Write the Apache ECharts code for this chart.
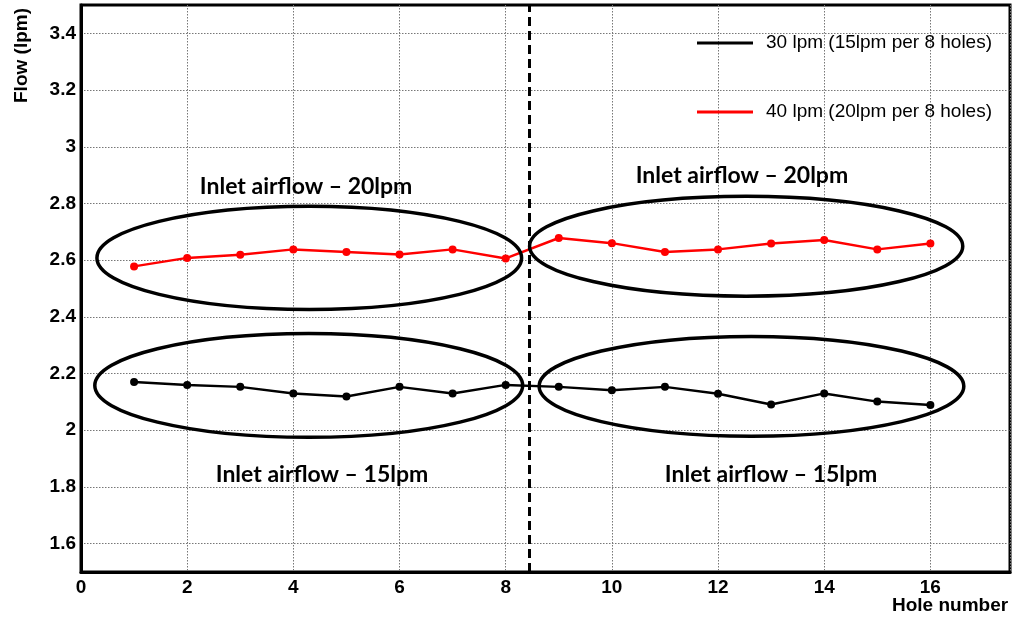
<!DOCTYPE html>
<html>
<head>
<meta charset="utf-8">
<script src="https://cdn.jsdelivr.net/npm/echarts@6/dist/echarts.min.js"></script>
<style>
  html, body { margin: 0; padding: 0; background: #fff; }
  #chart { width: 1013px; height: 620px; }
</style>
</head>
<body>
<div id="chart"></div>
<script>
// hole numbers and measured flow per hole
const holes = [1, 2, 3, 4, 5, 6, 7, 8, 9, 10, 11, 12, 13, 14, 15, 16]
const flow30 = [2.17, 2.16, 2.153, 2.13, 2.119, 2.153, 2.13, 2.16, 2.153, 2.141, 2.153, 2.129, 2.091, 2.13, 2.101, 2.089]
const flow40 = [2.578, 2.608, 2.619, 2.638, 2.629, 2.62, 2.638, 2.606, 2.678, 2.66, 2.629, 2.638, 2.659, 2.671, 2.638, 2.659]
const yTicks = [1.6, 1.8, 2, 2.2, 2.4, 2.6, 2.8, 3, 3.2, 3.4]
const dividerX = 8.45

// annotation ellipses (data units): cx, cy, rx, ry
const ellipses = [
  [4.30, 2.608, 4.0, 0.182],
  [12.53, 2.649, 4.08, 0.176],
  [4.29, 2.158, 4.03, 0.183],
  [12.63, 2.155, 4.0, 0.176]
]
// annotation labels (data units)
const notes = [
  ['Inlet airflow – 20lpm', 4.24, 2.86],
  ['Inlet airflow – 20lpm', 12.45, 2.90],
  ['Inlet airflow – 15lpm', 4.54, 1.844],
  ['Inlet airflow – 15lpm', 13.0, 1.844]
]

const chart = echarts.init(document.getElementById('chart'))

const boldFont = { color: '#000', fontWeight: 'bold', fontSize: 19, fontFamily: 'Liberation Sans, Arial, sans-serif' }
const gridLine = { show: true, lineStyle: { color: '#777', type: [1.5, 1.5], width: 1 } }

const option = {
  animation: false,
  backgroundColor: '#fff',
  grid: {
    left: 81, right: 3, top: 5, bottom: 48,
    containLabel: false,
    outerBoundsMode: 'none',
    show: true, borderColor: '#000', borderWidth: 3
  },
  legend: {
    orient: 'vertical',
    left: 692,
    top: 27,
    itemWidth: 56,
    itemHeight: 3,
    itemGap: 47,
    icon: 'rect',
    textStyle: { color: '#000', fontSize: 19, lineHeight: 22, fontFamily: 'Liberation Sans, Arial, sans-serif', padding: [0, 0, 0, 8] },
    data: ['30 lpm (15lpm per 8 holes)', '40 lpm (20lpm per 8 holes)']
  },
  xAxis: {
    type: 'value',
    min: 0,
    max: 17.5,
    interval: 2,
    name: 'Hole number',
    nameLocation: 'end',
    nameGap: -118,
    nameMoveOverlap: false,
    nameTextStyle: { ...boldFont, align: 'left', verticalAlign: 'top', padding: [24, 0, 0, 0] },
    axisLine: { lineStyle: { color: '#000', width: 3 } },
    axisTick: { show: false },
    axisLabel: { ...boldFont, margin: 6, showMaxLabel: false },
    splitLine: gridLine
  },
  yAxis: {
    type: 'value',
    min: 1.5,
    max: 3.5,
    name: 'Flow (lpm)',
    nameLocation: 'end',
    nameRotate: 90,
    nameGap: -3,
    nameMoveOverlap: false,
    nameTextStyle: { ...boldFont, align: 'right', verticalAlign: 'bottom', padding: [0, 0, 50, 0] },
    axisLine: { lineStyle: { color: '#000', width: 3 } },
    axisTick: { show: false, customValues: yTicks },
    axisLabel: { ...boldFont, margin: 5, customValues: yTicks, formatter: v => String(+v.toFixed(1)) },
    splitLine: { ...gridLine, customValues: yTicks }
  },
  series: [
    {
      name: '30 lpm (15lpm per 8 holes)',
      type: 'line',
      data: holes.map((h, i) => [h, flow30[i]]),
      symbol: 'circle',
      symbolSize: 8,
      color: '#000',
      lineStyle: { width: 2.5, color: '#000' },
      markLine: {
        silent: true,
        symbol: 'none',
        label: { show: false },
        lineStyle: { color: '#000', type: [9, 5], width: 3 },
        data: [{ xAxis: dividerX }]
      }
    },
    {
      name: '40 lpm (20lpm per 8 holes)',
      type: 'line',
      data: holes.map((h, i) => [h, flow40[i]]),
      symbol: 'circle',
      symbolSize: 8,
      color: '#ff0000',
      lineStyle: { width: 2.5, color: '#ff0000' }
    }
  ]
}

chart.setOption(option)

function px(x, y) {
  return chart.convertToPixel({ gridIndex: 0 }, [x, y])
}

const graphics = []
ellipses.forEach(([cx, cy, rx, ry]) => {
  const c = px(cx, cy)
  const e = px(cx + rx, cy + ry)
  graphics.push({
    type: 'ellipse',
    silent: true,
    z: 10,
    shape: { cx: c[0], cy: c[1], rx: Math.abs(e[0] - c[0]), ry: Math.abs(e[1] - c[1]) },
    style: { fill: 'none', stroke: '#000', lineWidth: 3.5 }
  })
})
notes.forEach(([text, x, y]) => {
  const p = px(x, y)
  graphics.push({
    type: 'text',
    silent: true,
    z: 10,
    x: p[0],
    y: p[1],
    style: {
      text: text,
      fill: '#000',
      font: 'bold 23px Lato, "Open Sans", sans-serif',
      align: 'center',
      verticalAlign: 'middle'
    }
  })
})
chart.setOption({ graphic: graphics })
</script>
</body>
</html>
